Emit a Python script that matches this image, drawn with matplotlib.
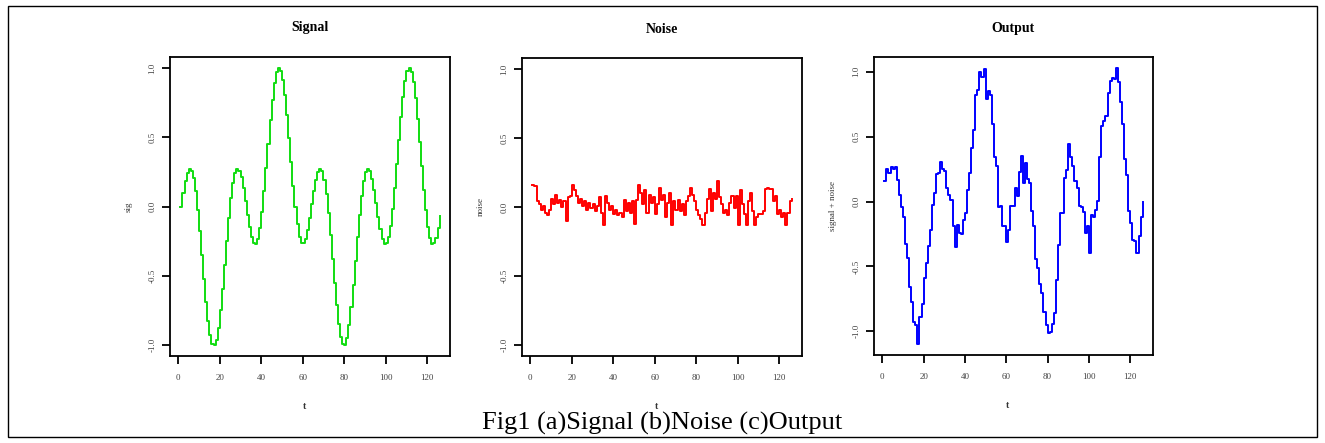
import matplotlib
matplotlib.use("Agg")
import matplotlib.pyplot as plt
from matplotlib.patches import Rectangle
import numpy as np

plt.rcParams['font.family'] = ['Liberation Serif', 'DejaVu Serif']

# ---- data ----
t = list(range(1, 127))

signal = [0.000, 0.098, 0.183, 0.244, 0.271, 0.259, 0.205, 0.110, -0.021, -0.178,
          -0.350, -0.524, -0.687, -0.826, -0.928, -0.988, -0.998, -0.959, -0.873, -0.749,
          -0.594, -0.423, -0.248, -0.084, 0.059, 0.170, 0.242, 0.271, 0.260, 0.212,
          0.135, 0.041, -0.058, -0.150, -0.222, -0.264, -0.269, -0.232, -0.154, -0.037,
          0.110, 0.278, 0.453, 0.622, 0.772, 0.891, 0.969, 1.000, 0.981, 0.914,
          0.805, 0.661, 0.496, 0.321, 0.150, -0.003, -0.128, -0.216, -0.261, -0.265,
          -0.236, -0.171, -0.082, 0.017, 0.113, 0.195, 0.251, 0.272, 0.254, 0.193,
          0.090, -0.046, -0.206, -0.380, -0.553, -0.713, -0.845, -0.941, -0.993, -0.997,
          -0.948, -0.857, -0.727, -0.567, -0.395, -0.220, -0.058, 0.080, 0.185, 0.250,
          0.272, 0.254, 0.201, 0.121, 0.025, -0.074, -0.164, -0.232, -0.268, -0.266,
          -0.222, -0.137, -0.014, 0.137, 0.307, 0.482, 0.648, 0.793, 0.907, 0.977,
          1.000, 0.973, 0.899, 0.784, 0.636, 0.466, 0.291, 0.121, -0.026, -0.146,
          -0.228, -0.267, -0.265, -0.226, -0.156, -0.066]

noise = [0.16, 0.15, 0.04, 0.02, -0.02, 0.01, -0.04, -0.06, -0.02, 0.06,
         0.02, 0.09, 0.03, 0.05, 0.00, 0.04, -0.10, 0.07, 0.08, 0.16,
         0.12, 0.08, 0.03, 0.06, 0.01, 0.04, -0.02, 0.03, -0.01, 0.02,
         -0.03, 0.01, 0.07, -0.04, -0.13, 0.08, 0.03, -0.02, 0.01, -0.05,
         -0.02, -0.06, -0.04, -0.07, 0.05, -0.03, 0.03, -0.04, 0.04, -0.12,
         0.05, 0.16, 0.10, 0.02, 0.12, -0.04, 0.09, 0.03, 0.07, -0.05,
         0.02, 0.14, 0.05, 0.09, -0.07, 0.03, 0.10, -0.13, 0.04, -0.02,
         0.05, -0.03, 0.02, -0.06, 0.04, 0.08, 0.14, 0.09, 0.04, -0.02,
         -0.06, -0.09, -0.13, -0.04, 0.06, 0.13, -0.03, 0.10, 0.06, 0.19,
         0.07, 0.02, -0.04, -0.02, -0.06, 0.03, 0.08, -0.01, 0.08, -0.13,
         0.12, 0.02, -0.05, -0.13, 0.04, 0.10, -0.03, -0.13, -0.07, -0.05,
         -0.05, -0.03, 0.13, 0.14, 0.13, 0.13, 0.04, 0.08, -0.05, -0.02,
         -0.07, -0.04, -0.13, -0.04, 0.04, 0.06, 0.09]
noise = noise[:len(t)]

output = [s + n for s, n in zip(signal, noise)]

titles = ["Signal", "Noise", "Output"]
ylabels = ["sig", "noise", "signal + noise"]
xlabel = "t"
colors = ["#11dd11", "#ff0000", "#0000ff"]
xticks = [0, 20, 40, 60, 80, 100, 120]
yticks = [-1.0, -0.5, 0.0, 0.5, 1.0]
caption = "Fig1 (a)Signal (b)Noise (c)Output"

def rlim(lo, hi):
    r = hi - lo
    return lo - 0.04 * r, hi + 0.04 * r

W, H = 1325, 443
fig = plt.figure(figsize=(W / 100, H / 100), dpi=100)
fig.patch.set_facecolor("white")

# outer frame
fig.patches.append(Rectangle((8 / W, 6 / H), (1317 - 8) / W, (437 - 6) / H,
                             transform=fig.transFigure, fill=False,
                             edgecolor="black", linewidth=1.0))

boxes = [(170, 450, 57, 356), (522, 802, 58, 356), (874, 1153, 57, 355)]
series = [signal, noise, output]
ylims = [rlim(min(signal), max(signal)), rlim(-1.0, 1.0), rlim(min(output), max(output))]

for i in range(3):
    l, r, tp, bt = boxes[i]
    ax = fig.add_axes([l / W, 1 - bt / H, (r - l) / W, (bt - tp) / H])
    ax.plot(t, series[i], color=colors[i], lw=1.4, drawstyle="steps-post")
    ax.set_xlim(*rlim(min(t), max(t)))
    ax.set_ylim(*ylims[i])
    ax.set_xticks(xticks)
    ax.set_xticklabels([str(v) for v in xticks])
    ax.set_yticks(yticks)
    ax.set_yticklabels(["%.1f" % v for v in yticks], rotation=90, va="center")
    ax.tick_params(axis="both", direction="out", length=5.8, width=1.3,
                   labelsize=6.5, labelcolor="#444444", color="black")
    ax.tick_params(axis="x", pad=7)
    ax.tick_params(axis="y", pad=4)
    for sp in ax.spines.values():
        sp.set_linewidth(1.3)
        sp.set_color("black")
    ax.text(0.5, 1.097, titles[i], transform=ax.transAxes, ha="center",
            va="center", fontsize=10, fontweight="bold")
    ax.text(-0.148, 0.5, ylabels[i], transform=ax.transAxes, ha="center",
            va="center", rotation=90, fontsize=6.5, color="#333333")
    ax.text(0.48, -0.17, xlabel, transform=ax.transAxes, ha="center",
            va="center", fontsize=7, color="#333333", fontweight="bold")

fig.text(0.5, 1 - 430 / H, caption, ha="center", va="baseline", fontsize=19,
         color="black")

fig.savefig("out.png", dpi=100, facecolor="white")
